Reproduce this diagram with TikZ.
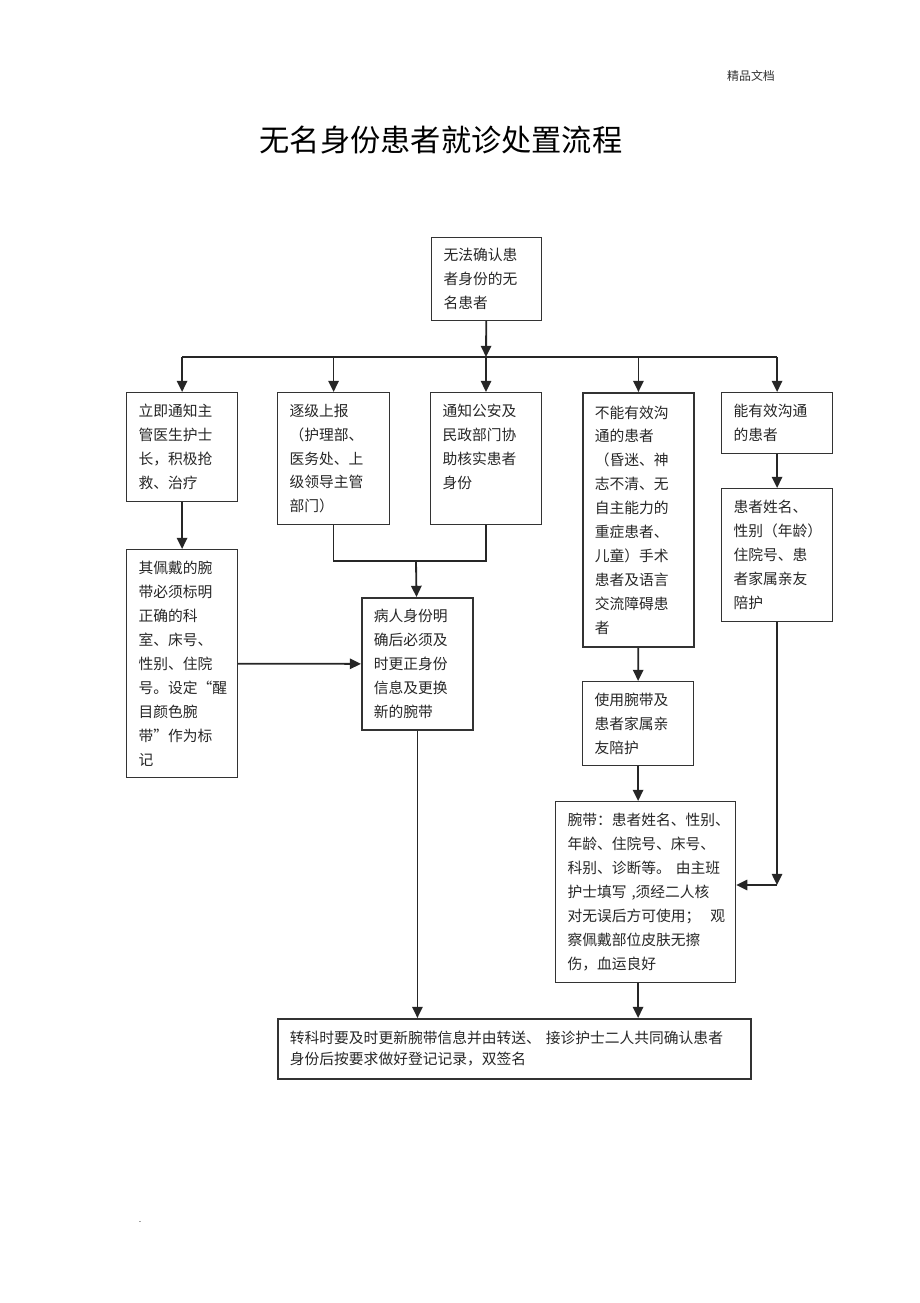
\documentclass[tikz,border=0pt]{standalone}
\usepackage{fontspec}
\newfontfamily\cjk{Noto Sans CJK SC}
\usetikzlibrary{arrows.meta}
\usetikzlibrary{positioning}
\tikzset{flow box/.style={rectangle,draw=black!80,line width=0.8pt,anchor=north west,align=left,text width=2.175cm,inner xsep=0.3cm,text=black!85,font=\cjk\fontsize{10.5pt}{17pt}\selectfont},}
\tikzset{bold box/.style={flow box,line width=1.3pt},}
\tikzset{flow line/.style={->,line width=1.3pt,draw=black!85},}

\begin{document}
\begin{tikzpicture}[x=0.025cm,y=-0.025cm,>={Triangle[length=0.28cm,width=0.26cm]}]
     \useasboundingbox (0,0) rectangle (920,1303);
     \node[font=\cjk\fontsize{8.5pt}{10pt}\selectfont,text=black!80] (mark) at (751,76) {精品文档};
     \node[font=\cjk\fontsize{21.5pt}{26pt}\selectfont] (title) at (441,140) {无名身份患者就诊处置流程};

     \node[flow box,text width=2.15cm,minimum height=2.075cm] (start) at (431,237) {无法确认患\\者身份的无\\名患者};
     \node[flow box,minimum height=2.725cm] (n1) at (126,392) {立即通知主\\管医生护士\\长，积极抢\\救、治疗};
     \node[flow box,text width=2.2cm,minimum height=3.3cm] (n2) at (277,392) {逐级上报\\（护理部、\\医务处、上\\级领导主管\\部门）};
     \node[flow box,minimum height=3.3cm] (n3) at (430,392) {通知公安及\\民政部门协\\助核实患者\\身份\\ \mbox{}};
     \node[bold box,minimum height=6.35cm] (n4) at (582,392) {不能有效沟\\通的患者\\（昏迷、神\\志不清、无\\自主能力的\\重症患者、\\儿童）手术\\患者及语言\\交流障碍患\\者};
     \node[flow box,minimum height=1.525cm] (n5) at (721,392) {能有效沟通\\的患者};
     \node[flow box,minimum height=3.325cm] (n6) at (721,488) {患者姓名、\\性别（年龄）\\住院号、患\\者家属亲友\\陪护};
     \node[flow box,minimum height=5.7cm] (n7) at (126,549) {其佩戴的腕\\带必须标明\\正确的科\\室、床号、\\性别、住院\\号。设定“醒\\目颜色腕\\带”作为标\\记};
     \node[bold box,minimum height=3.3cm] (n8) at (361,597) {病人身份明\\确后必须及\\时更正身份\\信息及更换\\新的腕带};
     \node[flow box,minimum height=2.1cm] (n9) at (582,681) {使用腕带及\\患者家属亲\\友陪护};
     \node[flow box,text width=3.9cm,minimum height=4.525cm] (n10) at (555,801) {腕带：患者姓名、性别、\\年龄、住院号、床号、\\科别、诊断等。~由主班\\护士填写~,须经二人核\\对无误后方可使用；~~观\\察佩戴部位皮肤无擦\\伤，血运良好};
     \node[bold box,text width=11.225cm,minimum height=1.5cm,font=\cjk\fontsize{10.5pt}{15pt}\selectfont] (n11) at (277,1018) {转科时要及时更新腕带信息并由转送、~接诊护士二人共同确认患者\\身份后按要求做好登记记录，双签名};
     \node[font=\fontsize{6pt}{8pt}\selectfont] (dot) at (140,1222) {.};

     \coordinate (bus) at (486,357);
     \coordinate (join) at (416,561);
     \coordinate (turn) at (777,885);

     % top of the chart and the bus
     \draw[flow line] (start) -- (bus);
     \draw[flow line,-] (bus -| n1) -- (bus -| n5);
     \draw[flow line] (bus -| n1) -- (n1);
     \draw[flow line] (bus -| n2) -- (n2);
     \draw[flow line] (bus) -- (n3);
     \draw[flow line] (bus -| n4) -- (n4);
     \draw[flow line] (bus -| n5) -- (n5);

     % left branch
     \draw[flow line] (n1) -- (n7);
     \draw[flow line] (n7) -- (n8);
     \draw[flow line,-] (n2.south) |- (join) -| (n3.south);
     \draw[flow line] (join) -- (n8);
     \draw[flow line] (n8) -- (n8 |- n11.north);

     % right branch
     \draw[flow line] (n4) -- (n9);
     \draw[flow line] (n9) -- (n9 |- n10.north);
     \draw[flow line] (n10.south -| n9) -- (n9 |- n11.north);
     \draw[flow line] (n5) -- (n6);
     \draw[flow line] (n6) -- (turn);
     \draw[flow line] (turn) -- (turn -| n10.east);
  \end{tikzpicture}
\end{document}
